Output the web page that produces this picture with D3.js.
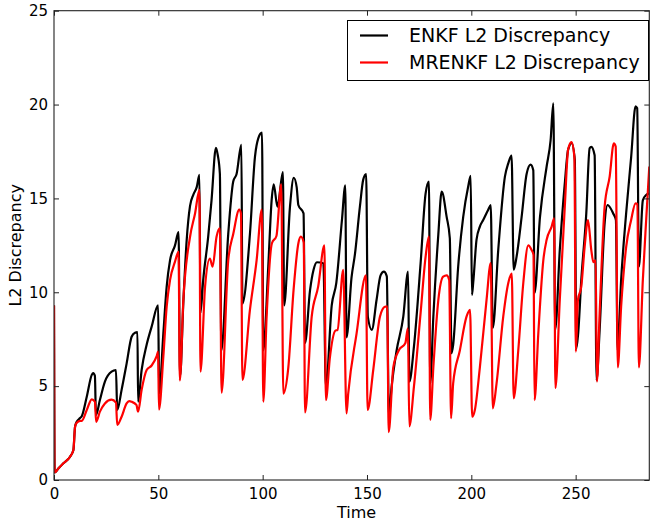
<!DOCTYPE html>
<html>
<head>
<meta charset="utf-8">
<script src="https://cdn.jsdelivr.net/npm/d3@7"></script>
<style>
  html, body { margin: 0; padding: 0; background: #fff; }
  svg { display: block; font-family: "DejaVu Sans", sans-serif; }
</style>
</head>
<body>
<svg id="chart" width="650" height="522"></svg>
<script>
// ---- data ----
const xTicks = [0, 50, 100, 150, 200, 250];
const yTicks = [0, 5, 10, 15, 20, 25];
const seriesNames = ["ENKF L2 Discrepancy", "MRENKF L2 Discrepancy"];
const seriesColors = ["#000000", "#ff0000"];

const enkf = [
  [0, 9.3], [0.3, 0.4], [2, 0.6], [4.5, 0.89], [7.7, 1.24], [9.3, 1.6], [10.1, 2.84], [10.9, 3.1],
  [12.5, 3.3], [13.3, 3.4], [15.7, 4.44], [18.1, 5.6], [18.8, 5.7], [19.6, 5.55], [20.1, 3.46],
  [22, 4.26], [24.4, 5.24], [27.6, 5.77], [29.7, 5.85], [30.3, 3.73], [32.4, 4.8], [34.8, 6.2],
  [37.2, 7.63], [38.8, 7.85], [40.0, 7.88], [40.3, 4.17], [42, 5.86], [44.4, 7.2], [46.8, 8.17],
  [49.9, 9.3], [50.4, 4.6], [52.4, 7.8], [54, 10.3], [55.6, 11.7], [58, 12.5], [59.7, 13.2],
  [60.4, 5.5], [62, 9.5], [63.6, 12.8], [65.2, 14.6], [66.8, 15.2], [68.4, 15.6], [69.7, 16.25],
  [70.2, 8.9], [71.5, 10.65], [73.9, 12.96], [75.5, 14.9], [77.6, 17.7], [78.5, 17.3], [79.5, 16.3],
  [80.2, 6.9], [83.5, 13.1], [85.9, 15.9], [87.5, 16.3], [89.8, 17.85], [90.3, 9.4], [93.9, 13.1],
  [96.3, 17.2], [97.9, 18.2], [99.7, 18.5], [100.3, 6.9], [102.7, 11.4], [104.3, 14.9], [105.3, 15.75],
  [107.1, 14.56], [109.7, 16.4], [110.3, 9.3], [113.1, 14.56], [114.9, 16.1], [116.3, 15.6],
  [117.1, 14.65], [119.6, 14.2], [120.3, 7.3], [122.7, 10.1], [124.4, 11.2], [126, 11.6],
  [129.1, 11.55], [130.3, 4.97], [133.1, 9.3], [135.3, 10.5], [138, 13.85], [139.6, 15.7],
  [140.2, 7.6], [142.6, 10.8], [144.2, 12.0], [146.6, 14.56], [148.2, 16.0], [149.6, 16.3],
  [150.4, 8.7], [152.3, 8.0], [154.6, 9.6], [156.5, 10.9], [158.1, 11.1], [159.5, 10.85],
  [160.5, 3.4], [161.8, 4.97], [164.2, 6.9], [167.4, 8.7], [169.7, 11.1], [170.3, 5.24],
  [172.5, 7.1], [175.7, 11.55], [178.1, 15.27], [179.7, 15.9], [180.3, 5.15], [181.8, 8.7],
  [184.2, 13.1], [185.8, 15.36], [188.2, 14.0], [189.7, 12.88], [190.5, 6.75], [191.3, 7.2],
  [193.7, 11.36], [196.1, 14.0], [198.5, 15.63], [199.7, 16.2], [200.3, 9.86], [200.9, 10.5],
  [202.5, 12.8], [204.1, 13.5], [205.7, 13.85], [208.1, 14.4], [209.3, 14.65], [210.3, 8.1],
  [212.9, 12.25], [216.1, 16.16], [217.7, 16.87], [219.3, 17.28], [220.3, 11.2], [221.7, 11.9],
  [224.1, 14.0], [226.5, 16.3], [228.4, 16.8], [229.7, 16.5], [230.3, 9.95], [232.9, 14.0],
  [236.1, 16.7], [238, 18.1], [239.3, 20.07], [240.2, 8.0], [242.4, 12.25], [244.8, 15.8],
  [246.4, 17.6], [248.1, 17.94], [249.6, 17.05], [250.3, 7.0], [251.2, 7.8], [252.7, 10.65],
  [255.1, 14.2], [256.7, 17.67], [257.5, 17.75], [259.1, 17.3], [260.0, 5.3], [261.5, 8.0],
  [263.9, 13.7], [265.3, 14.65], [268, 14.2], [269.3, 13.85], [270.1, 6.9], [271.8, 10.65],
  [274.2, 14.2], [276.6, 17.2], [278.7, 19.9], [279.5, 19.8], [280.3, 11.36], [282.2, 14.9],
  [283.8, 15.18], [285.3, 15.27]
];

const mrenkf = [
  [0, 9.3], [0.3, 0.4], [2, 0.6], [4.5, 0.89], [7.7, 1.24], [9.3, 1.6], [10.1, 2.84], [10.9, 3.05],
  [12.5, 3.15], [13.3, 3.15], [15.7, 3.73], [18.1, 4.3], [19.6, 4.17], [20.2, 3.1], [22, 3.64],
  [24.4, 4.08], [27.6, 4.28], [29.7, 4.12], [30.3, 2.93], [32.4, 3.37], [34.8, 4.08], [36, 4.2],
  [37.2, 4.17], [39.5, 4.0], [40.3, 3.64], [42, 4.8], [44.4, 5.86], [46.8, 6.1], [49.2, 6.6],
  [49.9, 6.84], [50.3, 3.75], [52.4, 6.57], [54, 9.23], [55.6, 10.65], [58, 11.63], [59.7, 12.16],
  [60.3, 5.3], [62, 9.6], [65.2, 12.96], [67.6, 14.2], [69.7, 15.45], [70.2, 5.77], [72.4, 10.3],
  [74.7, 11.8], [76, 11.36], [77.9, 12.96], [79.5, 13.4], [80.3, 4.65], [83.5, 11.7], [85.9, 13.1],
  [88.8, 14.4], [89.6, 14.2], [90.3, 5.33], [93.9, 9.06], [97.1, 11.7], [99.6, 14.4], [100.3, 4.17],
  [101.9, 8.7], [104.4, 12.6], [106.6, 13.0], [108.9, 15.75], [109.9, 4.6], [112.3, 6.0],
  [114.8, 10.1], [117.1, 12.6], [118.3, 12.96], [119.7, 12.65], [120.3, 3.6], [123.5, 8.7],
  [126.6, 10.3], [129.6, 12.5], [130.3, 4.26], [132.2, 6.5], [134.8, 7.95], [135.9, 8.0],
  [138.6, 11.2], [140.2, 3.55], [141, 4.6], [145, 7.8], [149.5, 10.9], [150.3, 3.73], [153, 5.86],
  [156.2, 8.7], [158.6, 9.23], [159.7, 9.25], [160.4, 2.55], [162.6, 6.0], [165.2, 6.9],
  [168.4, 7.3], [169.6, 8.08], [170.3, 2.86], [172.5, 4.97], [175.7, 8.9], [178.1, 11.9],
  [179.7, 12.96], [180.3, 3.2], [181.8, 6.0], [184.2, 9.6], [186.5, 10.83], [188.2, 10.9],
  [189.4, 10.65], [190.3, 3.29], [191.3, 5.15], [194.5, 6.9], [197.7, 8.7], [199.4, 9.06],
  [200.4, 3.37], [201.7, 3.73], [204.1, 6.0], [207.3, 9.6], [209.3, 11.55], [210.3, 3.82],
  [212.1, 5.15], [215.3, 8.7], [217.7, 10.48], [219.4, 11.0], [220.3, 4.35], [222.5, 6.9],
  [224.9, 10.48], [227.3, 12.5], [228.9, 12.25], [229.8, 12.0], [230.3, 4.26], [232.1, 7.8],
  [234.5, 11.7], [236.1, 12.8], [238.5, 13.5], [239.7, 13.94], [240.3, 4.9], [242.4, 9.6],
  [244.8, 14.56], [246.4, 17.6], [248.0, 18.0], [249.4, 17.2], [250.1, 6.84], [251.1, 9.6],
  [252.7, 10.3], [254.3, 12.4], [255.9, 13.85], [257.5, 12.25], [258.5, 11.6], [259.6, 11.7],
  [260.2, 5.24], [261.5, 8.88], [263.9, 14.56], [266.3, 16.16], [268.3, 17.94], [269.2, 17.76],
  [270.2, 6.0], [271.8, 9.23], [274.2, 12.4], [276.6, 13.85], [278.7, 14.74], [279.6, 14.7],
  [280.3, 6.0], [282.2, 10.65], [283.8, 13.85], [285.3, 16.7]
];

// ---- layout ----
const L = 54, R = 649.3, T = 10.7, B = 480;
const svg = d3.select("#chart");

const x = d3.scaleLinear().domain([0, 285.3]).range([L, R]);
const y = d3.scaleLinear().domain([0, 25]).range([B, T]);

// lines (clipped to the axes)
svg.append("clipPath").attr("id", "clip")
  .append("rect").attr("x", L).attr("y", T).attr("width", R - L).attr("height", B - T);

const line = d3.line()
  .x(d => x(d[0]))
  .y(d => y(d[1]))
  .curve(d3.curveMonotoneX);

const g = svg.append("g").attr("clip-path", "url(#clip)");
[enkf, mrenkf].forEach((data, i) => {
  g.append("path")
    .attr("d", line(data))
    .attr("fill", "none")
    .attr("stroke", seriesColors[i])
    .attr("stroke-width", 2.2)
    .attr("stroke-linejoin", "round");
});

// frame
svg.append("rect")
  .attr("x", L).attr("y", T).attr("width", R - L).attr("height", B - T)
  .attr("fill", "none").attr("stroke", "#222").attr("stroke-width", 1.1);

// axes
function styleAxis(sel, showText) {
  sel.select(".domain").remove();
  sel.selectAll(".tick line").attr("stroke", "#222").attr("stroke-width", 1);
  sel.selectAll(".tick text")
    .attr("fill", "#000")
    .style("font-size", "15px")
    .style("font-family", "DejaVu Sans, sans-serif")
    .attr("display", showText ? null : "none");
}

svg.append("g").attr("transform", `translate(0,${B})`)
  .call(d3.axisBottom(x).tickValues(xTicks).tickSize(-5).tickPadding(8).tickFormat(d3.format("d")))
  .call(s => styleAxis(s, true));
svg.append("g").attr("transform", `translate(0,${T})`)
  .call(d3.axisTop(x).tickValues(xTicks).tickSize(-5).tickFormat(""))
  .call(s => styleAxis(s, false));
svg.append("g").attr("transform", `translate(${L},0)`)
  .call(d3.axisLeft(y).tickValues(yTicks).tickSize(-5).tickPadding(6).tickFormat(d3.format("d")))
  .call(s => styleAxis(s, true));
svg.append("g").attr("transform", `translate(${R},0)`)
  .call(d3.axisRight(y).tickValues(yTicks).tickSize(-5).tickFormat(""))
  .call(s => styleAxis(s, false));

// axis labels
svg.append("text")
  .attr("x", 356.5).attr("y", 517.5)
  .attr("text-anchor", "middle")
  .style("font-size", "16px")
  .text("Time");

svg.append("text")
  .attr("transform", `translate(15,${(T + B) / 2}) rotate(-90)`)
  .attr("text-anchor", "middle")
  .attr("dy", "0.35em")
  .style("font-size", "16px")
  .text("L2 Discrepancy");

// legend
const lg = svg.append("g");
lg.append("rect")
  .attr("x", 347.5).attr("y", 20.5).attr("width", 301).attr("height", 60)
  .attr("fill", "#fff").attr("stroke", "#000").attr("stroke-width", 1);
seriesNames.forEach((name, i) => {
  const yy = 35.5 + i * 27;
  lg.append("line")
    .attr("x1", 360).attr("x2", 388).attr("y1", yy).attr("y2", yy)
    .attr("stroke", seriesColors[i]).attr("stroke-width", 2.2);
  lg.append("text")
    .attr("x", 409).attr("y", yy).attr("dy", "0.36em")
    .style("font-size", "19px")
    .text(name);
});
</script>
</body>
</html>
